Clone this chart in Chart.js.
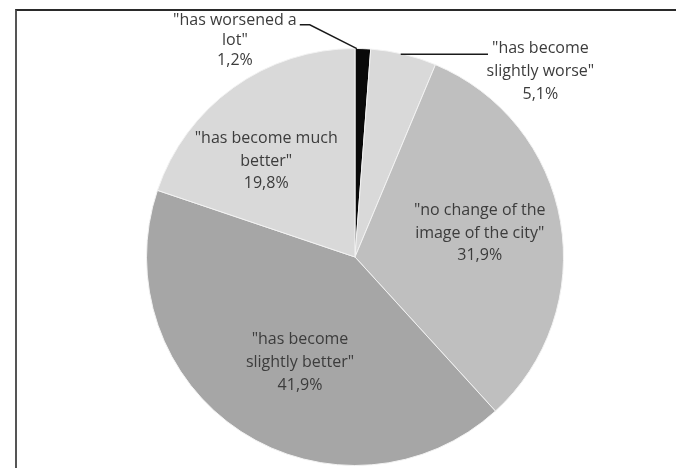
<!DOCTYPE html>
<html>
<head>
<meta charset="utf-8">
<script src="https://cdn.jsdelivr.net/npm/chart.js@4/dist/chart.umd.min.js"></script>
<style>
  html, body { margin: 0; padding: 0; background: #fff; }
  #wrap { position: relative; width: 676px; height: 468px; overflow: hidden; background: #fff; }
  #frame { position: absolute; left: 15px; top: 9px; width: 700px; height: 500px;
           border-top: 2px solid #2a2a2a; border-left: 2px solid #555; }
  #c { position: absolute; left: 0; top: 0; }
</style>
</head>
<body>
<div id="wrap">
  <div id="frame"></div>
  <canvas id="c" width="676" height="468"></canvas>
</div>
<script>
// slices, clockwise from 12 o'clock
const categories = [
    ['"has worsened a', 'lot"'],
    ['"has become', 'slightly worse"'],
    ['"no change of the', 'image of the city"'],
    ['"has become', 'slightly better"'],
    ['"has become much', 'better"']
];
const shares = [1.2, 5.1, 31.9, 41.9, 19.8];
const shareLabels = ['1,2%', '5,1%', '31,9%', '41,9%', '19,8%'];

const sliceColors = ['#0a0a0a', '#d9d9d9', '#bfbfbf', '#a6a6a6', '#d9d9d9'];

// label placement: offset of the middle text line from the slice centroid,
// and whether a leader line is drawn to the slice edge
const labelPlacement = [
    { dx: -124, dy: -112, lh: 20, leader: 'bend' },
    { dx: 161, dy: -84, lh: 23, leader: 'flat' },
    { dx: 22, dy: -6, lh: 22.5 },
    { dx: 2, dy: 18, lh: 23 },
    { dx: -28, dy: -11, lh: 22.5 }
];

const labelFont = "16px 'Open Sans', sans-serif";

const pieLabels = {
    id: 'pieLabels',
    afterDatasetsDraw(chart) {
        const ctx = chart.ctx;
        const arcs = chart.getDatasetMeta(0).data;
        ctx.save();
        ctx.font = labelFont;
        ctx.fillStyle = '#3c3c3c';
        ctx.textAlign = 'center';
        ctx.textBaseline = 'middle';
        arcs.forEach((arc, i) => {
            const p = arc.tooltipPosition();
            const pl = labelPlacement[i];
            const cx = p.x + pl.dx;
            const midY = p.y + pl.dy;
            const lines = categories[i].concat([shareLabels[i]]);
            lines.forEach((t, k) => {
                ctx.fillText(t, cx, midY + (k - 1) * pl.lh);
            });

            if (pl.leader) {
                const a = (arc.startAngle + arc.endAngle) / 2;
                const ex = arc.x + Math.cos(a) * arc.outerRadius;
                const ey = arc.y + Math.sin(a) * arc.outerRadius;
                const firstY = midY - pl.lh;
                const w = ctx.measureText(lines[0]).width;
                ctx.strokeStyle = '#1a1a1a';
                ctx.lineWidth = 1.5;
                ctx.beginPath();
                if (pl.leader === 'bend') {
                    const sx = cx + w / 2 + 3;
                    ctx.moveTo(sx, firstY + 4);
                    ctx.lineTo(sx + 10, firstY + 4);
                    ctx.lineTo(ex - 6, ey);
                } else {
                    const sx = cx - w / 2 - 4;
                    ctx.moveTo(sx, ey);
                    ctx.lineTo(ex - 3, ey);
                }
                ctx.stroke();
            }
        });
        ctx.restore();
    }
};

new Chart(document.getElementById('c'), {
    type: 'pie',
    data: {
        labels: categories.map(c => c.join(' ')),
        datasets: [{
            data: shares,
            backgroundColor: sliceColors,
            borderColor: '#f2f2f2',
            borderWidth: 1
        }]
    },
    options: {
        responsive: false,
        animation: false,
        layout: { padding: { left: 146, right: 112, top: 48, bottom: 2 } },
        plugins: {
            legend: { display: false },
            tooltip: { enabled: false }
        }
    },
    plugins: [pieLabels]
});
</script>
</body>
</html>
